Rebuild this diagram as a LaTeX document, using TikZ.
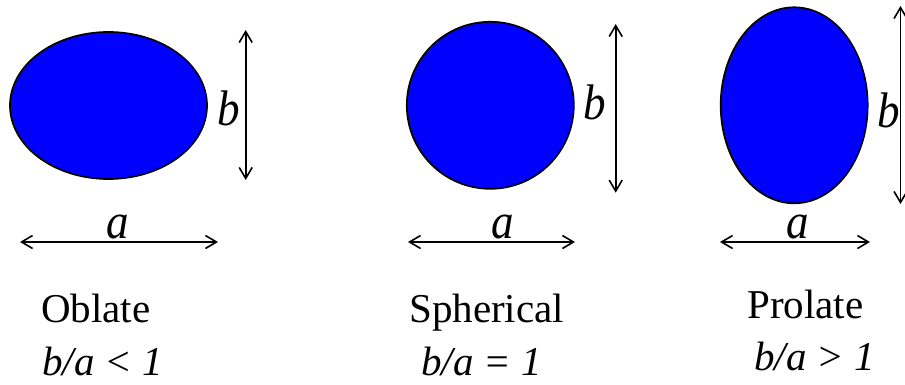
\documentclass[tikz,border=0pt]{standalone}
\usepackage{fontspec}
\setmainfont{Liberation Serif}
\usetikzlibrary{shapes.geometric,arrows.meta}
\begin{document}
\begin{tikzpicture}[x=1pt,y=-1pt,
  blob/.style={ellipse,draw=black,line width=1.7pt,fill=blue,inner sep=0pt,outer sep=0pt},
  dimarrow/.style={line width=1.7pt,{Straight Barb[length=11pt,width=13pt,line width=1.6pt]}-{Straight Barb[length=11pt,width=13pt,line width=1.6pt]}},
  symtxt/.style={font=\fontsize{50}{58}\selectfont\itshape,inner sep=0pt,anchor=base,xscale=0.9},
  captxt/.style={font=\fontsize{41}{48}\selectfont,inner sep=0pt,anchor=base west},
  ratiotxt/.style={font=\fontsize{41}{48}\selectfont\itshape,inner sep=0pt,anchor=base west}]
\useasboundingbox (0,0) rectangle (905,385);
% shapes
\node[blob,minimum width=197pt,minimum height=147pt] (obl) at (108.5,105.5) {};
\node[blob,minimum width=167pt,minimum height=167pt] (sph) at (490.3,105.3) {};
\node[blob,minimum width=147pt,minimum height=196pt] (pro) at (794.2,105.3) {};
% dimension arrows
\coordinate (ob1) at (245.7,30);  \coordinate (ob2) at (245.7,180);
\coordinate (oa1) at (20,242);    \coordinate (oa2) at (218,242);
\coordinate (sb1) at (615.7,24);  \coordinate (sb2) at (615.7,192.7);
\coordinate (sa1) at (408,242);   \coordinate (sa2) at (575,242);
\coordinate (pb1) at (900.5,6);   \coordinate (pb2) at (900.5,204);
\coordinate (pa1) at (720,242);   \coordinate (pa2) at (870,242);
\draw[dimarrow] (ob1) -- (ob2);
\draw[dimarrow] (oa1) -- (oa2);
\draw[dimarrow] (sb1) -- (sb2);
\draw[dimarrow] (sa1) -- (sa2);
\draw[dimarrow] (pb1) -- (pb2);
\draw[dimarrow] (pa1) -- (pa2);
% labels
\node[symtxt] (obb) at (229,126) {b};
\node[symtxt] (oba) at (118,238) {a};
\node[symtxt] (spb) at (595,120) {b};
\node[symtxt] (spa) at (503,238) {a};
\node[symtxt] (prb) at (889,128) {b};
\node[symtxt] (pra) at (798,238) {a};
% captions
\node[captxt] (t1) at (41,322) {Oblate};
\node[ratiotxt] (r1) at (42,375) {b/a < 1};
\node[captxt] (t2) at (409,322) {Spherical};
\node[ratiotxt] (r2) at (421,375) {b/a = 1};
\node[captxt] (t3) at (747,318) {Prolate};
\node[ratiotxt] (r3) at (754,370) {b/a > 1};
\end{tikzpicture}
\end{document}
